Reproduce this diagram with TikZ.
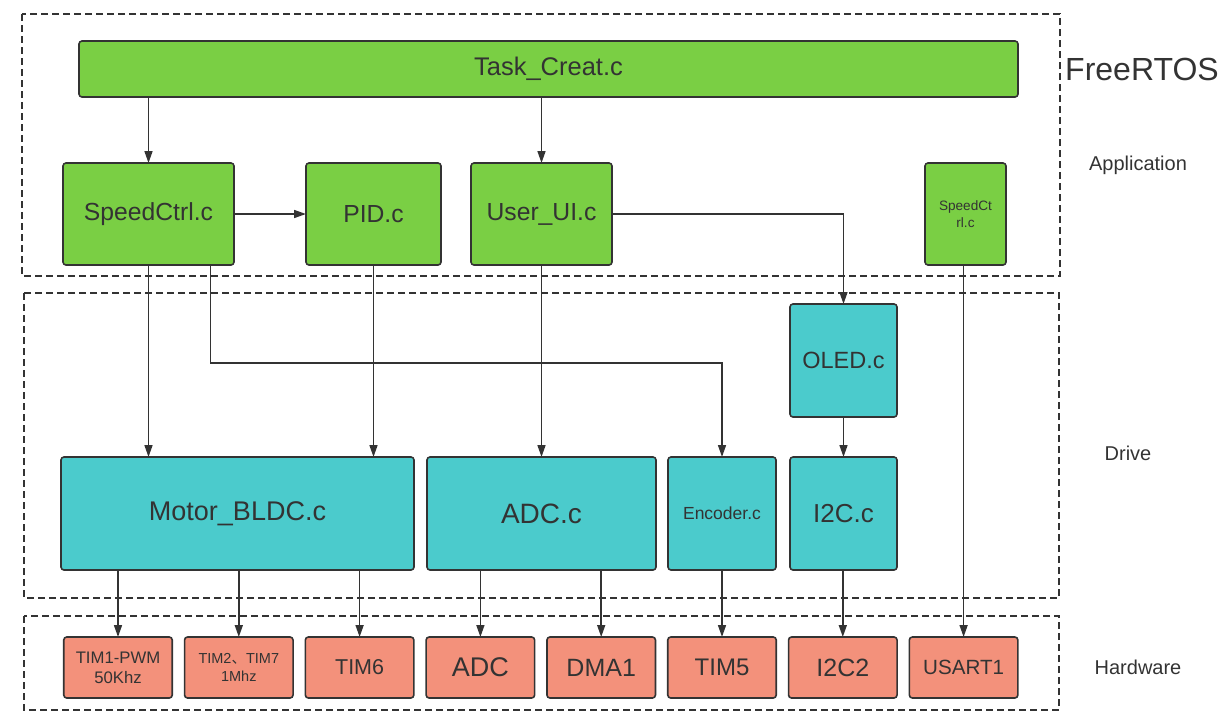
\documentclass[tikz,border=0pt]{standalone}
\usepackage{fontspec}
\setmainfont{Liberation Sans}
\newfontfamily\cjkfont{Noto Sans CJK SC}
\usepackage{xcolor}
\usetikzlibrary{arrows.meta,positioning}
\definecolor{linegray}{RGB}{51,51,51}
\definecolor{textgray}{RGB}{51,51,51}
\definecolor{appgreen}{RGB}{122,207,68}
\definecolor{drvteal}{RGB}{75,203,204}
\definecolor{hwsalmon}{RGB}{243,145,123}
\newcommand{\fsz}[2]{\fontsize{#1}{#2}\selectfont}

\begin{document}
\begin{tikzpicture}[
    x=1pt,y=-1pt,
    node distance=12.3pt,
    base/.style={rectangle,rounded corners=3pt,draw=linegray,line width=1.6pt,
      inner sep=0pt,outer sep=0pt,align=center,text=textgray},
    app/.style={base,fill=appgreen,minimum height=102pt,font=\fsz{24.7pt}{29pt}},
    drv/.style={base,fill=drvteal,minimum height=113pt,font=\fsz{27pt}{32pt}},
    hw/.style={base,fill=hwsalmon,minimum width=108.5pt,minimum height=61pt},
    layerbox/.style={draw=linegray,line width=1.5pt,dash pattern=on 7pt off 4pt},
    layer/.style={text=textgray,font=\fsz{20pt}{24pt}},
    arrow/.style={-{Triangle[length=12pt,width=8pt]},line width=1.6pt,draw=linegray}
  ]
    \useasboundingbox (0,0) rectangle (1227,724);

    % layers
    \draw[layerbox] (22,14) rectangle (1060,276);
    \draw[layerbox] (24,293) rectangle (1059,598);
    \draw[layerbox] (24,616) rectangle (1059,710);
    \node[text=textgray,font=\fsz{32pt}{36pt}] (rtos) at (1142,69) {FreeRTOS};
    \node[layer] (lapp) at (1138,165) {Application};
    \node[layer] (ldrv) at (1128,453) {Drive};
    \node[layer] (lhw) at (1138,667) {Hardware};

    % application
    \node[app,minimum width=939pt,minimum height=56pt,font=\fsz{25.5pt}{30pt}] (task) at (548.5,69) {Task\_Creat.c};
    \node[app,minimum width=171pt] (sc) at (148.5,214) {SpeedCtrl.c};
    \node[app,minimum width=135pt] (pid) at (373.5,214) {PID.c};
    \node[app,minimum width=141pt] (ui) at (541.5,214) {User\_UI.c};
    \node[app,minimum width=81pt,font=\fsz{13.6pt}{17pt}] (sc2) at (965.5,214) {SpeedCt\\rl.c};

    % drive
    \node[drv,minimum width=107pt,font=\fsz{23.5pt}{28pt}] (oled) at (843.5,360.5) {OLED.c};
    \node[drv,minimum width=353pt] (motor) at (237.5,513.5) {Motor\_BLDC.c};
    \node[drv,minimum width=229pt,font=\fsz{28pt}{32pt}] (adcc) at (541.5,513.5) {ADC.c};
    \node[drv,minimum width=108pt,font=\fsz{17.5pt}{21pt}] (enc) at (722,513.5) {Encoder.c};
    \node[drv,minimum width=107pt,font=\fsz{26pt}{30pt}] (i2c) at (843.5,513.5) {I2C.c};

    % hardware
    \node[hw,font=\fsz{16.7pt}{20pt}] (tim1) at (118,667.5) {TIM1-PWM\\50Khz};
    \node[hw,right=of tim1,font=\fsz{14.5pt}{18pt}] (tim2) {TIM2{\cjkfont 、}TIM7\\1Mhz};
    \node[hw,right=of tim2,font=\fsz{21.5pt}{26pt}] (tim6) {TIM6};
    \node[hw,right=of tim6,font=\fsz{27pt}{32pt}] (adc) {ADC};
    \node[hw,right=of adc,font=\fsz{25pt}{30pt}] (dma) {DMA1};
    \node[hw,right=of dma,font=\fsz{24pt}{28pt}] (tim5) {TIM5};
    \node[hw,right=of tim5,font=\fsz{25pt}{30pt}] (i2c2) {I2C2};
    \node[hw,right=of i2c2,font=\fsz{20.6pt}{24pt}] (usart) {USART1};

    \draw[arrow] (task.south -| sc) -- (sc.north);
    \draw[arrow] (task.south -| ui) -- (ui.north);
    \draw[arrow] (sc) -- (pid);
    \draw[arrow] (ui.east) -| (oled.north);
    \draw[arrow] (sc.south) -- (sc.south |- motor.north);
    \draw[arrow] (pid.south) -- (pid.south |- motor.north);
    \draw[arrow] ([xshift=62pt]sc.south) -- ++(0,98) -| (enc.north);
    \draw[arrow] (ui.south) -- (ui.south |- adcc.north);
    \draw[arrow] (oled) -- (i2c);
    \draw[arrow] (sc2.south -| usart) -- (usart.north);

    \draw[arrow] (motor.south -| tim1) -- (tim1.north);
    \draw[arrow] (motor.south -| tim2) -- (tim2.north);
    \draw[arrow] (motor.south -| tim6) -- (tim6.north);
    \draw[arrow] (adcc.south -| adc) -- (adc.north);
    \draw[arrow] (adcc.south -| dma) -- (dma.north);
    \draw[arrow] (enc.south -| tim5) -- (tim5.north);
    \draw[arrow] (i2c.south -| i2c2) -- (i2c2.north);
  \end{tikzpicture}
\end{document}
